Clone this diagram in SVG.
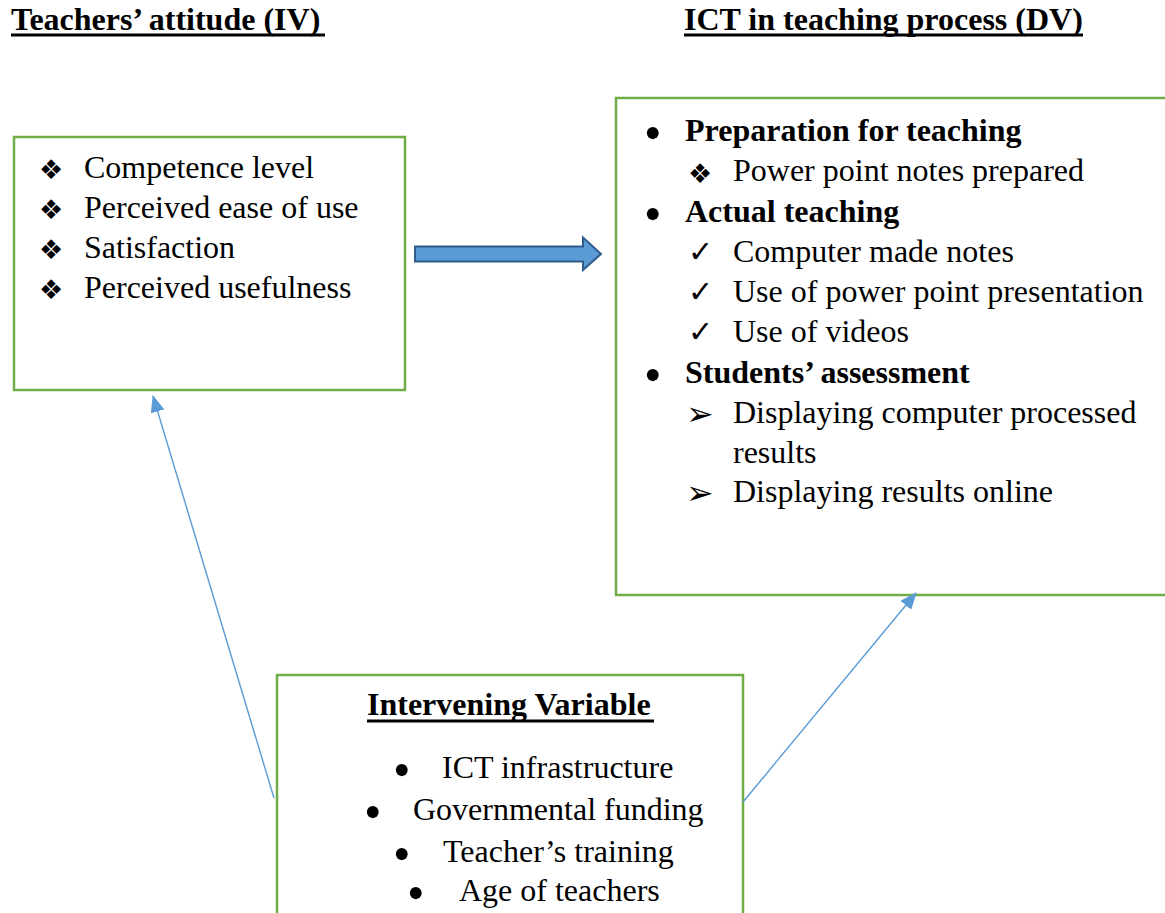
<svg xmlns="http://www.w3.org/2000/svg" width="1165" height="913" viewBox="0 0 1165 913">
<style>
.t{font-family:"Liberation Serif","Times New Roman",serif;font-size:32px;fill:#000}
.b{font-weight:bold}
.sym{font-family:"DejaVu Sans",sans-serif;font-size:27px;fill:#000}
.chk{font-family:"DejaVu Sans",sans-serif;font-size:30px;fill:#000}
.arr{font-family:"DejaVu Sans",sans-serif;font-size:33px;fill:#000}
.bul{font-family:"Liberation Serif",serif;font-size:50px;fill:#000}
.box{fill:#fff;stroke:#70AD47;stroke-width:2.5}
.con{stroke:#5B9BD5;stroke-width:1.4;fill:none}
</style>
<defs>
<marker id="ah" markerUnits="userSpaceOnUse" markerWidth="18" markerHeight="14" refX="16" refY="7" orient="auto" viewBox="0 0 18 14">
<path d="M0,0 L17,7 L0,14 Z" fill="#5B9BD5"/>
</marker>
</defs>
<rect width="1165" height="913" fill="#fff"/>

<g id="title-iv">
<text class="t b" x="11" y="30">Teachers’ attitude (IV)</text>
<rect x="11" y="33.5" width="314" height="3" fill="#000"/>
</g>
<g id="title-dv">
<text class="t b" x="684" y="30">ICT in teaching process (DV)</text>
<rect x="684" y="33.5" width="399" height="3" fill="#000"/>
</g>

<g id="iv-box">
<rect class="box" x="14" y="137" width="391" height="253"/>
<text class="sym" x="39" y="179">❖</text><text class="t" x="84" y="177.5">Competence level</text>
<text class="sym" x="39" y="219">❖</text><text class="t" x="84" y="217.5">Perceived ease of use</text>
<text class="sym" x="39" y="259">❖</text><text class="t" x="84" y="257.5">Satisfaction</text>
<text class="sym" x="39" y="299">❖</text><text class="t" x="84" y="297.5">Perceived usefulness</text>
</g>

<g id="block-arrow">
<path d="M415,246.5 L583,246.5 L583,237.5 L601,254 L583,270 L583,261.5 L415,261.5 Z" fill="#5B9BD5" stroke="#2F5C8A" stroke-width="2" stroke-linejoin="miter"/>
</g>

<g id="dv-box">
<rect class="box" x="616" y="98" width="560" height="497"/>
<text class="bul" x="644" y="150">•</text><text class="t b" x="685" y="141">Preparation for teaching</text>
<text class="sym" x="688" y="183">❖</text><text class="t" x="733" y="181">Power point notes prepared</text>
<text class="bul" x="644" y="231">•</text><text class="t b" x="685" y="222">Actual teaching</text>
<text class="chk" x="688" y="262">✓</text><text class="t" x="733" y="262">Computer made notes</text>
<text class="chk" x="688" y="302">✓</text><text class="t" x="733" y="302">Use of power point presentation</text>
<text class="chk" x="688" y="342">✓</text><text class="t" x="733" y="342">Use of videos</text>
<text class="bul" x="644" y="392">•</text><text class="t b" x="685" y="383">Students’ assessment</text>
<text class="arr" x="686" y="425">➢</text><text class="t" x="733" y="423">Displaying computer processed</text>
<text class="t" x="733" y="463">results</text>
<text class="arr" x="686" y="504">➢</text><text class="t" x="733" y="502">Displaying results online</text>
</g>

<g id="intervening-box">
<rect class="box" x="277" y="675" width="466" height="260"/>
<text class="t b" x="367" y="715">Intervening Variable</text>
<rect x="367" y="719.5" width="287" height="3" fill="#000"/>
<text class="bul" x="393" y="787">•</text><text class="t" x="442" y="778">ICT infrastructure</text>
<text class="bul" x="364" y="829">•</text><text class="t" x="413" y="820">Governmental funding</text>
<text class="bul" x="393" y="871">•</text><text class="t" x="443" y="862">Teacher’s training</text>
<text class="bul" x="407" y="910">•</text><text class="t" x="459" y="901">Age of teachers</text>
</g>

<g id="connectors">
<line class="con" x1="274" y1="798" x2="153" y2="396" marker-end="url(#ah)"/>
<line class="con" x1="743" y1="802" x2="916" y2="593" marker-end="url(#ah)"/>
</g>
</svg>
